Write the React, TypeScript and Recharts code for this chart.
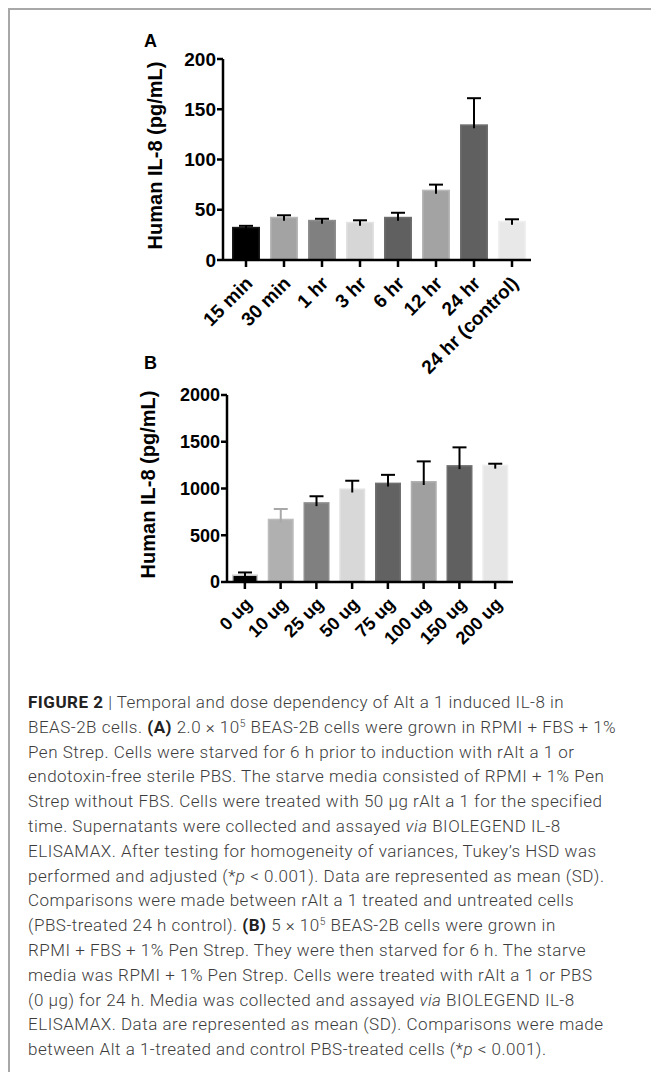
import React from "react";
import { BarChart, Bar, XAxis, YAxis } from "recharts";

// Panel A: time course
const timeLabels = ["15 min", "30 min", "1 hr", "3 hr", "6 hr", "12 hr", "24 hr", "24 hr (control)"];
const timeMeans = [33, 43, 40, 38, 43, 70, 135, 39];
const timeSD = [1, 1.5, 1, 1.5, 4, 5, 26, 1.5];
const timeTicks = [0, 50, 100, 150, 200];

// Panel B: dose response
const doseLabels = ["0 ug", "10 ug", "25 ug", "50 ug", "75 ug", "100 ug", "150 ug", "200 ug"];
const doseMeans = [80, 677, 854, 1000, 1063, 1080, 1250, 1255];
const doseSD = [22, 104, 63, 83, 83, 210, 190, 10];
const doseTicks = [0, 500, 1000, 1500, 2000];

const timeFills = ["#000000", "#a3a3a3", "#808080", "#d6d6d6", "#606060", "#a3a3a3", "#606060", "#e8e8e8"];
const timeStrokes = ["#1a1a1a", "#b8b8b8", "#8e8e8e", "#e2e2e2", "#6e6e6e", "#b8b8b8", "#6e6e6e", "#f0f0f0"];
const doseFills = ["#000000", "#b0b0b0", "#808080", "#d8d8d8", "#626262", "#a0a0a0", "#606060", "#e6e6e6"];
const doseStrokes = ["#c8c8c8", "#bcbcbc", "#8e8e8e", "#e2e2e2", "#707070", "#b0b0b0", "#6e6e6e", "#eeeeee"];
const doseErrColors = ["#000", "#a8a8a8", "#000", "#000", "#000", "#000", "#000", "#000"];

const timeData = timeLabels.map((label, i) => ({
  label,
  mean: timeMeans[i],
  sd: timeSD[i],
  fill: timeFills[i],
  stroke: timeStrokes[i],
  errColor: "#000",
}));

const doseData = doseLabels.map((label, i) => ({
  label,
  mean: doseMeans[i],
  sd: doseSD[i],
  fill: doseFills[i],
  stroke: doseStrokes[i],
  errColor: doseErrColors[i],
}));

const FONT = "'Liberation Sans', Arial, Helvetica, sans-serif";

const BarWithError = (props: any) => {
  const { x, y, width, height, payload } = props;
  if (!payload || !height) return null;
  const ppu = height / payload.mean;
  const errTop = y - payload.sd * ppu;
  const cx = x + width / 2;
  return (
    <g>
      <rect
        x={x + 0.75}
        y={y + 0.75}
        width={width - 1.5}
        height={height - 0.75}
        fill={payload.fill}
        stroke={payload.stroke}
        strokeWidth={1.5}
      />
      <line x1={cx} x2={cx} y1={errTop} y2={y + 4} stroke={payload.errColor} strokeWidth={2} />
      <line x1={cx - 7} x2={cx + 7} y1={errTop} y2={errTop} stroke={payload.errColor} strokeWidth={2} />
    </g>
  );
};

const makeXTick = (size: number, dx: number, dy: number) => (props: any) => {
  const { x, y, payload } = props;
  return (
    <text
      transform={`translate(${x + dx},${y + dy}) rotate(-45)`}
      textAnchor="end"
      dominantBaseline="central"
      fontFamily={FONT}
      fontWeight={700}
      fontSize={size}
      fill="#000"
    >
      {payload.value}
    </text>
  );
};

const yLabel = (shift: number) => (p: any) => {
  const vb = p.viewBox;
  const cx = vb.x + shift;
  const cy = vb.y + vb.height / 2 - 4;
  return (
    <text
      x={cx}
      y={cy}
      transform={`rotate(-90, ${cx}, ${cy})`}
      textAnchor="middle"
      dominantBaseline="central"
      fontFamily={FONT}
      fontWeight={700}
      fontSize={20}
      fill="#000"
    >
      Human IL-8 (pg/mL)
    </text>
  );
};

const axisStroke = { stroke: "#000", strokeWidth: 2.5 };

function Panel({
  data,
  ticks,
  max,
  barSize,
  width,
  height,
  margin,
  padLeft,
  labelShift,
  tickFont,
  xTick,
}: any) {
  return (
    <BarChart width={width} height={height} data={data} margin={margin} barSize={barSize}>
      <XAxis
        dataKey="label"
        interval={0}
        axisLine={axisStroke}
        tickLine={axisStroke}
        tickSize={7}
        tick={xTick}
        height={100}
        padding={{ left: padLeft, right: 0 }}
      />
      <YAxis
        domain={[0, max]}
        ticks={ticks}
        interval={0}
        width={60}
        axisLine={axisStroke}
        tickLine={axisStroke}
        tickSize={6}
        tickMargin={1}
        tick={{ fill: "#000", fontSize: tickFont, fontWeight: 700, fontFamily: FONT }}
        label={{ content: yLabel(labelShift) }}
      />
      <Bar dataKey="mean" shape={<BarWithError />} isAnimationActive={false} />
    </BarChart>
  );
}

const supStyle: React.CSSProperties = { fontSize: "0.6em", lineHeight: 0, verticalAlign: "0.6em" };
const boldStyle: React.CSSProperties = { fontWeight: 700, color: "#222" };

const captionLines: React.ReactNode[] = [
  <>
    <span style={boldStyle}>FIGURE 2</span> | Temporal and dose dependency of Alt a 1 induced IL-8 in
  </>,
  <>
    BEAS-2B cells. <span style={boldStyle}>(A)</span> 2.0 × 10<span style={supStyle}>5</span> BEAS-2B cells were grown in RPMI + FBS + 1%
  </>,
  <>Pen Strep. Cells were starved for 6 h prior to induction with rAlt a 1 or</>,
  <>endotoxin-free sterile PBS. The starve media consisted of RPMI + 1% Pen</>,
  <>Strep without FBS. Cells were treated with 50 µg rAlt a 1 for the specified</>,
  <>
    time. Supernatants were collected and assayed <i>via</i> BIOLEGEND IL-8
  </>,
  <>ELISAMAX. After testing for homogeneity of variances, Tukey’s HSD was</>,
  <>
    performed and adjusted (*<i>p</i> &lt; 0.001). Data are represented as mean (SD).
  </>,
  <>Comparisons were made between rAlt a 1 treated and untreated cells</>,
  <>
    (PBS-treated 24 h control). <span style={boldStyle}>(B)</span> 5 × 10<span style={supStyle}>5</span> BEAS-2B cells were grown in
  </>,
  <>RPMI + FBS + 1% Pen Strep. They were then starved for 6 h. The starve</>,
  <>media was RPMI + 1% Pen Strep. Cells were treated with rAlt a 1 or PBS</>,
  <>
    (0 µg) for 24 h. Media was collected and assayed <i>via</i> BIOLEGEND IL-8
  </>,
  <>ELISAMAX. Data are represented as mean (SD). Comparisons were made</>,
  <>
    between Alt a 1-treated and control PBS-treated cells (*<i>p</i> &lt; 0.001).
  </>,
];

export default function App() {
  return (
    <div
      style={{
        position: "absolute",
        left: 0,
        top: 0,
        width: 651,
        height: 1072,
        background: "#fff",
        overflow: "hidden",
      }}
    >
      <div
        style={{
          position: "absolute",
          left: 8,
          top: 8,
          right: 0,
          bottom: 0,
          borderTop: "2px solid #a8a8a8",
          borderLeft: "2px solid #a8a8a8",
        }}
      />
      <div style={{ position: "absolute", left: 0, top: 0 }}>
        <Panel
          data={timeData}
          ticks={timeTicks}
          max={200}
          barSize={28}
          width={560}
          height={400}
          margin={{ top: 59, right: 29, bottom: 40, left: 163 }}
          padLeft={4}
          labelShift={-8}
          tickFont={19}
          xTick={makeXTick(19, 3, 11)}
        />
      </div>
      <div style={{ position: "absolute", left: 0, top: 340 }}>
        <Panel
          data={doseData}
          ticks={doseTicks}
          max={2000}
          barSize={26}
          width={560}
          height={360}
          margin={{ top: 55, right: 47, bottom: 18, left: 167 }}
          padLeft={0}
          labelShift={-19}
          tickFont={18}
          xTick={makeXTick(18, 4, 10)}
        />
      </div>
      <div
        style={{
          position: "absolute",
          left: 144,
          top: 30,
          fontFamily: FONT,
          fontWeight: 700,
          fontSize: 18,
          lineHeight: "22px",
        }}
      >
        A
      </div>
      <div
        style={{
          position: "absolute",
          left: 144,
          top: 352,
          fontFamily: FONT,
          fontWeight: 700,
          fontSize: 18,
          lineHeight: "22px",
        }}
      >
        B
      </div>
      <div
        style={{
          position: "absolute",
          left: 28,
          top: 690,
          fontFamily: "Roboto, 'Noto Sans', sans-serif",
          fontSize: 17,
          fontWeight: 300,
          letterSpacing: 0.5,
          lineHeight: "24.8px",
          color: "#3c3c3c",
          whiteSpace: "nowrap",
        }}
      >
        {captionLines.map((line, i) => (
          <div key={i}>{line}</div>
        ))}
      </div>
    </div>
  );
}
